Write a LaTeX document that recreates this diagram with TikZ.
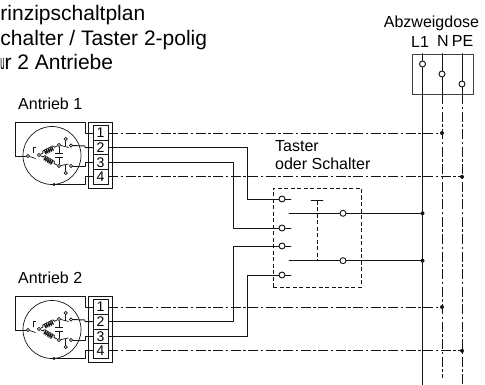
\documentclass[tikz,border=0pt]{standalone}
\usepackage{fontspec}
\setmainfont{Liberation Sans}
\usetikzlibrary{decorations.pathmorphing}
\definecolor{linie}{HTML}{141414}
\definecolor{rahmen}{HTML}{404040}
\tikzset{
  draht/.style={draw=linie, line width=0.95pt, line cap=round, line join=round},
  fein/.style={draw=linie, line width=0.7pt},
  strich/.style={draw=linie, line width=0.95pt, dash pattern=on 10pt off 2.5pt on 2.5pt off 2.5pt},
  gestr/.style={draw=linie, line width=0.9pt, dash pattern=on 4pt off 2.5pt},
  spule/.style={draw=linie, line width=0.8pt, decorate, decoration={coil,aspect=0.4,segment length=2pt,amplitude=2.2pt}},
  kont/.style={circle, draw=linie, fill=white, line width=0.9pt, inner sep=0pt, minimum size=6pt},
  mini/.style={circle, draw=linie, fill=white, line width=0.7pt, inner sep=0pt, minimum size=3.2pt},
  punkt/.style={circle, fill=linie, inner sep=0pt, minimum size=4pt},
  klemme/.style={rectangle, draw=linie, line width=0.8pt, inner sep=0pt, minimum width=15pt, minimum height=14.6pt, font=\fontsize{14}{14}\selectfont},
  kasten/.style={rectangle, inner sep=0pt},
  lab/.style={inner sep=0pt, font=\fontsize{16}{19}\selectfont},
  titellab/.style={inner sep=0pt, anchor=base west, font=\fontsize{21}{25}\selectfont},
  antrieb/.pic={
    % Klemmleiste
    \node[kasten, draw=linie, line width=0.8pt, minimum width=24pt, minimum height=66pt] (-leiste) at (100,155) {};
    \foreach \n/\y in {1/133,2/147.6,3/162.2,4/176.8}
      \node[klemme] (-t\n) at (100.5,\y) {\n};
    \draw[fein] (52,155.5) circle (29);
    % Kontakte im Motor
    \node[mini] (-k0) at (28,156) {};
    \node[mini] (-k1) at (39,155) {};
    \node[mini] (-k2) at (59,145) {};
    \node[mini] (-k3) at (59,166) {};
    \node[mini] (-k4) at (71,145.5) {};
    \node[mini] (-k5) at (71,166) {};
    \node[mini] (-k6) at (65.7,139) {};
    \node[mini] (-k7) at (65.7,173) {};
    \node[punkt, minimum size=3.4pt] (-p) at (54,184.5) {};
    \draw[fein] (-k0) -- (35.5,158.5);
    \draw[fein] (33,153) -- (33,147) -- (35.5,147);
    \draw[fein] (-k1) -- (43,153);
    \draw[spule] (43,153) -- (55,147);
    \draw[fein] (55,147) -- (-k2);
    \draw[fein] (-k1) -- (43,157);
    \draw[spule] (43,157) -- (55,164);
    \draw[fein] (55,164) -- (-k3);
    % Kondensator
    \draw[fein] (-k2) -- (59,153.5) (55,153.5) -- (63,153.5);
    \draw[fein] (-k3) -- (59,157.5) (55,157.5) -- (63,157.5);
    % Endschalter
    \draw[fein] (-k2) -- (68.5,147.5);
    \draw[fein] (-k3) -- (68.5,164);
    \draw[fein] (-k6) -- (65.7,146.5);
    \draw[fein] (-k7) -- (65.7,165);
    % Anschluesse
    \draw[draht] (-t1.west) -- (85,133) -- (85,122) -- (15,122) -- (15,156) -- (-k0);
    \draw[draht] (-k4) -- (85,146) -- (85,147.6) -- (-t2.west);
    \draw[draht] (-k5) -- (85,166) -- (85,162.2) -- (-t3.west);
    \draw[draht] (-t4.west) -- (85,176.8) -- (85,184.5) -- (-p);
  },
}
\begin{document}
\begin{tikzpicture}[x=1pt,y=-1pt]
  \useasboundingbox (0,0) rectangle (485,385);
  \node[titellab] (titel1) at (0.3,20.7) {rinzipschaltplan};
  \node[titellab] (titel2) at (0.3,45.5) {chalter / Taster 2-polig};
  \node[titellab] (titel3) at (0.1,70) {\scalebox{0.36}[1]{u}r 2 Antriebe};
  \node[lab, anchor=west] (ant1) at (18,104) {Antrieb 1};
  \node[lab, anchor=west] (ant2) at (18,278) {Antrieb 2};
  \node[lab, anchor=base west] (tast1) at (275,152) {Taster};
  \node[lab, anchor=base west] (tast2) at (275,169.5) {oder Schalter};
  \node[lab, anchor=base] (abzw) at (431.5,28) {Abzweigdose};
  \node[lab, anchor=base] (l1) at (420,47.5) {L1};
  \node[lab, anchor=base] (n) at (443,46.5) {N};
  \node[lab, anchor=base] (pe) at (462.5,46.5) {PE};

  \pic (a1) at (0,0) {antrieb};
  \pic (a2) at (0,174) {antrieb};

  % Abzweigdose
  \node[kasten, draw=rahmen, line width=0.8pt, minimum width=61pt, minimum height=40pt] (dose) at (442.5,74) {};
  \node[kont] (dl) at (422.5,64) {};
  \node[kont] (dn) at (442,74) {};
  \node[kont] (dp) at (462,84) {};
  \coordinate (el) at (422.5,385);
  \coordinate (en) at (442,378);
  \coordinate (ep) at (462,385);
  \draw[draht] (dose.north -| dl) -- (dl) -- (el);
  \draw[draht] (dose.north -| dn) -- (dn) -- (dose.south -| dn);
  \draw[draht] (dose.north -| dp) -- (dp) -- (dose.south -| dp);
  \draw[strich] (dose.south -| dn) -- (en);
  \draw[strich] (dose.south -| dp) -- (ep);

  % Taster
  \node[kasten, draw=linie, gestr, minimum width=88pt, minimum height=99pt] (taster) at (317,237.5) {};
  \foreach \n/\y in {1/199,2/228,3/246,4/275} {
    \node[kont] (s\n) at (282,\y) {};
    \coordinate (f\n) at (291,\y);
    \draw[draht] (s\n) -- (f\n);
  }
  \node[kont] (s5) at (343,213.3) {};
  \node[kont] (s6) at (343,260.7) {};
  \node[punkt] (j1) at (422.5,213.3) {};
  \node[punkt] (j2) at (422.5,260.7) {};
  \coordinate (h1) at (289,213.3);
  \coordinate (h2) at (289,260.7);
  \coordinate (m0) at (317,200.7);
  \coordinate (m1) at (317,260.7);
  \draw[draht] (h1) -- (s5) -- (j1);
  \draw[draht] (h2) -- (s6) -- (j2);
  \draw[gestr] (m0) -- (m1);
  \draw[draht] ([xshift=-6pt]m0) -- ([xshift=6pt]m0);

  % Schutzleiter und N
  \node[punkt] (j3) at (442,133) {};
  \node[punkt] (j4) at (462,176.8) {};
  \node[punkt] (j5) at (442,307) {};
  \node[punkt] (j6) at (462,350.8) {};
  \draw[strich] (a1-t1.east) -- (j3);
  \draw[strich] (a1-t4.east) -- (j4);
  \draw[strich] (a2-t1.east) -- (j5);
  \draw[strich] (a2-t4.east) -- (j6);

  % Zuleitungen zum Taster
  \coordinate (x1) at (233,0);
  \coordinate (x2) at (247,0);
  \draw[draht] (a1-t2.east) -| (x2 |- s1) -- (s1);
  \draw[draht] (a1-t3.east) -| (x1 |- s2) -- (s2);
  \draw[draht] (a2-t2.east) -| (x1 |- s3) -- (s3);
  \draw[draht] (a2-t3.east) -| (x2 |- s4) -- (s4);
\end{tikzpicture}
\end{document}
